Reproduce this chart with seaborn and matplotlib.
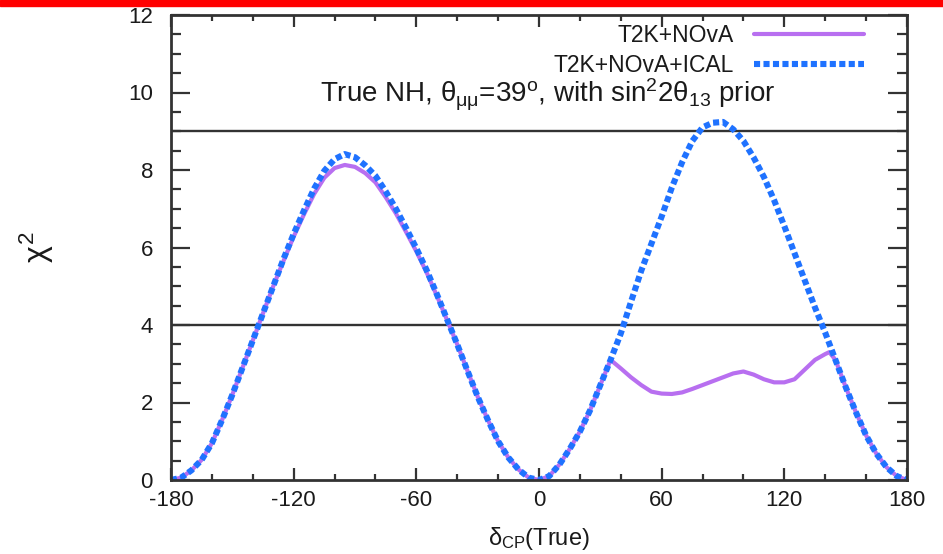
import matplotlib
matplotlib.use("Agg")
import matplotlib.pyplot as plt
import seaborn as sns
import numpy as np
from matplotlib.patches import Rectangle
from matplotlib.ticker import MultipleLocator

# ---- data ----
delta_ical = [-180, -175, -170, -165, -160, -155, -150, -145, -140, -135, -130, -125,
              -120, -115, -110, -105, -100, -95, -90, -85, -80, -75, -70, -65, -60,
              -55, -50, -45, -40, -35, -30, -25, -20, -15, -10, -5, 0, 5, 10, 15, 20,
              25, 30, 35, 40, 45, 50, 55, 60, 65, 70, 75, 80, 85, 90, 95, 100, 105,
              110, 115, 120, 125, 130, 135, 140, 145, 150, 155, 160, 165, 170, 175, 180]
chi2_ical = [0.0, 0.06, 0.25, 0.52, 0.95, 1.55, 2.2, 2.9, 3.6, 4.3, 5.0, 5.7,
             6.35, 6.95, 7.52, 7.98, 8.28, 8.41, 8.33, 8.12, 7.85, 7.45, 7.0, 6.5, 5.98,
             5.42, 4.8, 4.15, 3.5, 2.82, 2.15, 1.55, 1.0, 0.58, 0.27, 0.06, 0.0, 0.1, 0.4,
             0.8, 1.25, 1.8, 2.45, 3.1, 3.78, 4.6, 5.4, 6.1, 6.8, 7.55, 8.2, 8.75, 9.1,
             9.22, 9.24, 9.05, 8.75, 8.32, 7.82, 7.22, 6.55, 5.85, 5.15, 4.45, 3.8, 3.1,
             2.4, 1.75, 1.15, 0.68, 0.33, 0.1, 0.0]

delta_nova = [-180, -175, -170, -165, -160, -155, -150, -145, -140, -135, -130, -125,
              -120, -115, -110, -105, -100, -95, -90, -85, -80, -75, -70, -65, -60,
              -55, -50, -45, -40, -35, -30, -25, -20, -15, -10, -5, 0, 5, 10, 15, 20,
              25, 30, 35, 40, 45, 50, 55, 60, 65, 70, 75, 80, 85, 90, 95, 100, 105,
              110, 115, 120, 125, 130, 135, 140, 142, 145, 150, 155, 160, 165, 170, 175, 180]
chi2_nova = [0.0, 0.06, 0.25, 0.52, 0.95, 1.55, 2.2, 2.9, 3.6, 4.3, 5.0, 5.65,
             6.28, 6.85, 7.38, 7.8, 8.05, 8.13, 8.08, 7.92, 7.68, 7.3, 6.88, 6.4, 5.9,
             5.36, 4.76, 4.13, 3.5, 2.82, 2.15, 1.55, 1.0, 0.58, 0.27, 0.06, 0.0, 0.1, 0.4,
             0.8, 1.25, 1.8, 2.45, 3.1, 2.88, 2.65, 2.45, 2.28, 2.23, 2.22, 2.26, 2.35, 2.45,
             2.55, 2.65, 2.75, 2.8, 2.72, 2.6, 2.52, 2.52, 2.6, 2.85, 3.1, 3.25, 3.3, 3.1,
             2.4, 1.75, 1.15, 0.68, 0.33, 0.1, 0.0]

label_nova = "T2K+NOvA"
label_ical = "T2K+NOvA+ICAL"
ref_levels = [4, 9]
xticks = [-180, -120, -60, 0, 60, 120, 180]
yticks = [0, 2, 4, 6, 8, 10, 12]

sns.set_style("ticks")
plt.rcParams['font.family'] = ['Liberation Sans', 'DejaVu Sans']
plt.rcParams['mathtext.fontset'] = 'custom'
plt.rcParams['mathtext.rm'] = 'Liberation Sans'
plt.rcParams['mathtext.it'] = 'Liberation Sans'
plt.rcParams['axes.unicode_minus'] = False

W, H = 943, 554
fig = plt.figure(figsize=(W / 100, H / 100), dpi=100)
fig.patch.set_facecolor("white")
x0, x1, y0, y1 = 171, 907, 15, 480
ax = fig.add_axes([x0 / W, 1 - y1 / H, (x1 - x0) / W, (y1 - y0) / H])

purple = "#b86ff0"
blue = "#1f72ff"
ink = "#1a1a1a"

sns.lineplot(x=delta_nova, y=chi2_nova, ax=ax, color=purple, linewidth=3.0,
             label=label_nova, sort=True)
sns.lineplot(x=delta_ical, y=chi2_ical, ax=ax, color=blue, linewidth=4.4,
             label=label_ical, sort=True)
ax.lines[1].set_dashes((1.0, 0.55))
ax.lines[1].set_dash_capstyle("butt")

for lv in ref_levels:
    ax.axhline(lv, color="#333333", linewidth=1.7, zorder=1)

ax.set_xlim(-180, 180)
ax.set_ylim(0, 12)
ax.set_xticks(xticks)
ax.set_yticks(yticks)
ax.xaxis.set_minor_locator(MultipleLocator(20))
ax.yaxis.set_minor_locator(MultipleLocator(0.5))
ax.tick_params(axis="x", which="major", direction="in", length=8.5, width=1.6,
               top=True, bottom=True, labelsize=16, pad=7, colors="#333333",
               labelcolor=ink)
ax.tick_params(axis="x", which="minor", direction="in", length=4.3, width=1.6,
               top=True, bottom=True, colors="#333333")
ax.tick_params(axis="y", which="major", direction="in", length=14, width=1.6,
               left=True, right=True, labelsize=16, pad=13, colors="#333333",
               labelcolor=ink)
ax.tick_params(axis="y", which="minor", direction="in", length=7, width=1.6,
               left=True, right=True, colors="#333333")
for sp in ax.spines.values():
    sp.set_visible(True)
    sp.set_linewidth(2.0)
    sp.set_color("#333333")

ax.set_xlabel(r"$\delta_{\rm CP}$(True)", fontsize=17, labelpad=10, color=ink)
ax.set_ylabel(r"$\chi^2$", fontsize=23, labelpad=52, color=ink)

# legend: text on the left, sample on the right
leg = ax.legend(loc="upper right", markerfirst=False, frameon=False, fontsize=16.5,
                handlelength=4.8, handletextpad=0.9, labelspacing=0.3,
                borderaxespad=0, borderpad=0,
                bbox_to_anchor=((864 - x0) / (x1 - x0), (y1 - 24) / (y1 - y0)))
for t in leg.get_texts():
    t.set_color(ink)

ax.text((548 - x0) / (x1 - x0), (y1 - 95) / (y1 - y0),
        r"True NH, $\theta_{\mu\mu}$=39$^{o}$, with sin$^{2}$2$\theta_{13}$ prior",
        transform=ax.transAxes, ha="center", va="center", fontsize=20, color=ink)

# red band at top of the image
fig.add_artist(Rectangle((0, 1 - 6 / H), 1, 6 / H, transform=fig.transFigure,
                         color="#ff0000", zorder=10))

fig.savefig("out.png", dpi=100)
